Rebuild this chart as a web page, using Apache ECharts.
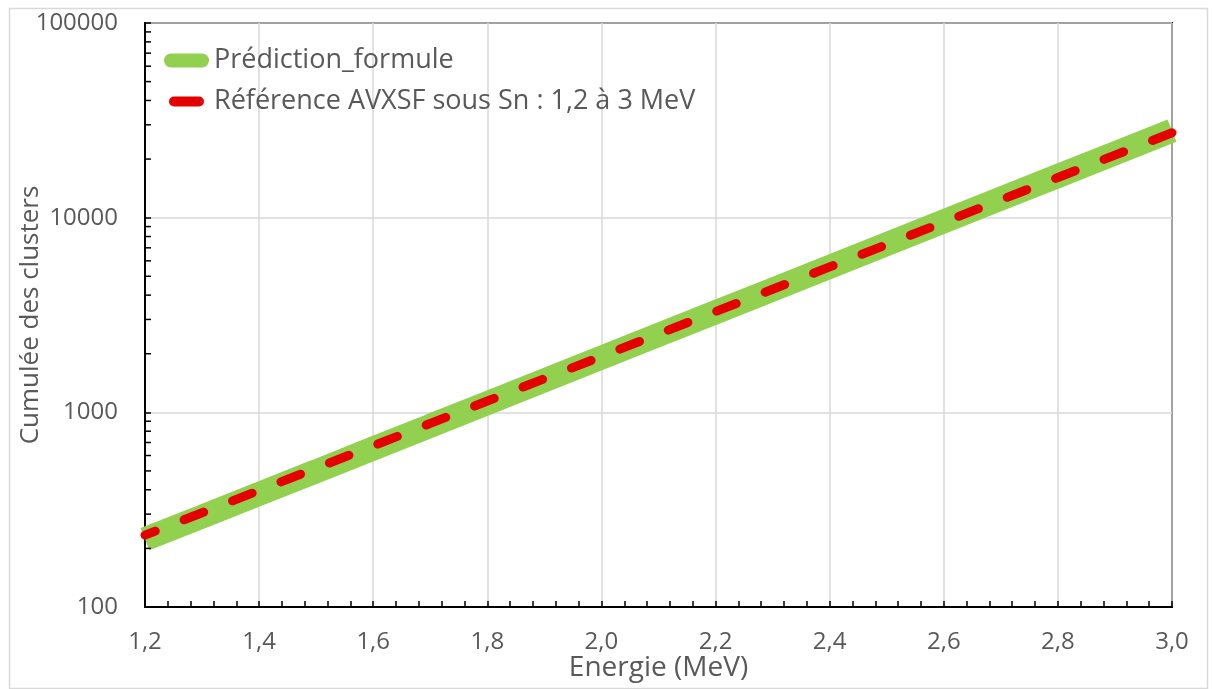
<!DOCTYPE html>
<html>
<head>
<meta charset="utf-8">
<script src="https://cdn.jsdelivr.net/npm/echarts@6/dist/echarts.min.js"></script>
<style>
html,body{margin:0;padding:0;background:#fff;}
#chart{width:1213px;height:689px;}
</style>
</head>
<body>
<div id="chart"></div>
<script>
// Energy values (MeV)
const energies = [1.2,1.3,1.4,1.5,1.6,1.7,1.8,1.9,2.0,2.1,2.2,2.3,2.4,2.5,2.6,2.7,2.8,2.9,3.0];
// Prédiction_formule
const prediction = [223,291,381,498,652,853,1115,1459,1909,2497,3266,4273,5589,7311,9564,12512,16366,21410,28000];
// Référence AVXSF sous Sn : 1,2 à 3 MeV
const reference = [234,305,397,517,673,877,1143,1489,1939,2527,3291,4287,5585,7275,9476,12346,16083,20950,27290];
// y axis minor tick values (log decades)
const yMinorTicks = [200,300,400,500,600,700,800,900,2000,3000,4000,5000,6000,7000,8000,9000,20000,30000,40000,50000,60000,70000,80000,90000];
const seriesNames = ['Prédiction_formule', 'Référence AVXSF sous Sn : 1,2 à 3 MeV'];
const xMin = 1.2, xMax = 3.0, xStep = 0.2;
const yMin = 100, yMax = 100000;

const font = '"Open Sans", "Noto Sans", sans-serif';
const textColor = '#595959';

const chart = echarts.init(document.getElementById('chart'), null, {renderer: 'canvas'});
chart.setOption({
  animation: false,
  backgroundColor: '#fff',
  textStyle: {fontFamily: font},
  graphic: [{
    type: 'rect', left: 7, top: 6, shape: {width: 1198, height: 680},
    style: {fill: 'none', stroke: '#D9D9D9', lineWidth: 1.5}, silent: true, z: -10
  }],
  grid: {
    left: 145, right: 41, top: 23, bottom: 82,
    containLabel: false, outerBoundsMode: 'none',
    show: true, borderColor: '#000', borderWidth: 2, backgroundColor: 'transparent'
  },
  legend: {
    orient: 'vertical', left: 164, top: 47, itemGap: 14,
    itemWidth: 45, itemHeight: 14, padding: 0,
    textStyle: {fontSize: 27, color: textColor, fontFamily: font},
    data: [
      {name: seriesNames[0], icon: 'path://M7,0H38A7,7 0 0 1 38,14H7A7,7 0 0 1 7,0Z', itemStyle: {color: '#92D050'}},
      {name: seriesNames[1], icon: 'path://M0,0M45,14M10,2H35A5,5 0 0 1 35,12H10A5,5 0 0 1 10,2Z', itemStyle: {color: '#E50000'}}
    ]
  },
  xAxis: {
    type: 'value', min: xMin, max: xMax, interval: xStep,
    name: 'Energie (MeV)', nameLocation: 'middle', nameGap: 47, nameMoveOverlap: false,
    nameTextStyle: {fontSize: 28, color: textColor, fontFamily: font},
    axisLine: {show: true, lineStyle: {color: '#000', width: 2}},
    axisTick: {show: true, inside: true, length: 6, lineStyle: {color: '#000', width: 1.5}},
    minorTick: {show: true, splitNumber: 5, length: 6, lineStyle: {color: '#000', width: 1.5}},
    axisLabel: {fontSize: 24, color: textColor, margin: 23, fontFamily: font,
      formatter: v => v.toFixed(1).replace('.', ',')},
    splitLine: {show: true, lineStyle: {color: '#D9D9D9', width: 1.5}}
  },
  yAxis: {
    type: 'log', logBase: 10, min: yMin, max: yMax,
    name: 'Cumulée des clusters', nameLocation: 'middle', nameGap: 101, nameMoveOverlap: false,
    nameTextStyle: {fontSize: 26, color: textColor, fontFamily: font},
    axisLine: {show: true, lineStyle: {color: '#000', width: 2}},
    axisTick: {show: true, inside: true, length: 6, lineStyle: {color: '#000', width: 1.5}},
    axisLabel: {fontSize: 24, color: textColor, margin: 27, fontFamily: font,
      formatter: v => String(Math.round(v))},
    splitLine: {show: true, lineStyle: {color: '#D9D9D9', width: 1.5}}
  },
  series: [
    {
      name: seriesNames[0], type: 'line', showSymbol: false, symbol: 'none',
      data: energies.map((e, i) => [e, prediction[i]]),
      lineStyle: {color: '#92D050', width: 24, cap: 'butt'},
      itemStyle: {color: '#92D050'}, z: 2
    },
    {
      name: seriesNames[1], type: 'line', showSymbol: false, symbol: 'none',
      data: energies.map((e, i) => [e, reference[i]]),
      lineStyle: {color: '#E50000', width: 9, type: [21, 31], cap: 'round', dashOffset: 10},
      itemStyle: {color: '#E50000'}, z: 3
    },
    {
      type: 'custom', silent: true, z: 5, clip: false,
      data: yMinorTicks.map(v => [xMin, v]),
      renderItem: function (params, api) {
        const p = api.coord([api.value(0), api.value(1)]);
        return {
          type: 'line',
          shape: {x1: p[0], y1: p[1], x2: p[0] + 6, y2: p[1]},
          style: {stroke: '#000', lineWidth: 1.5}
        };
      }
    }
  ]
});
</script>
</body>
</html>
